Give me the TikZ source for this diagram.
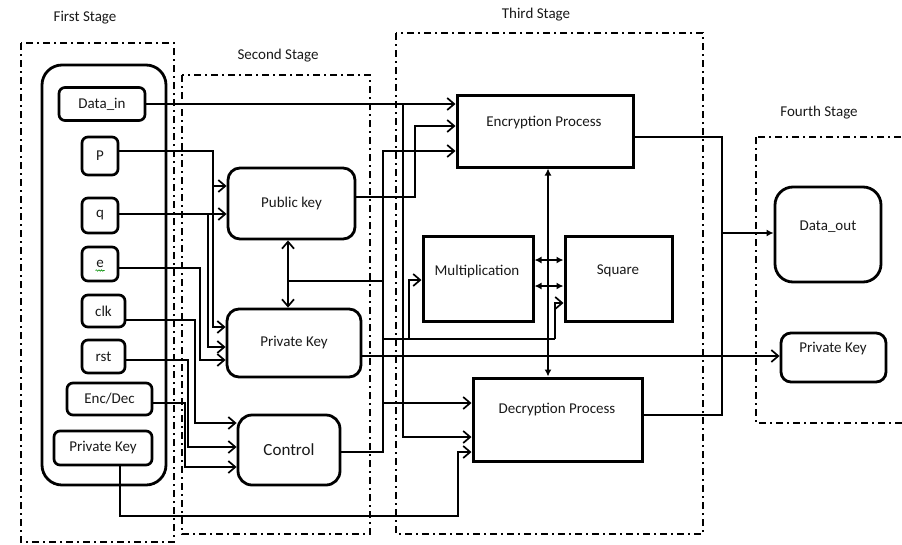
\documentclass[tikz,border=0pt]{standalone}
\usepackage{fontspec}
\setmainfont{Carlito}
\usetikzlibrary{arrows.meta,decorations.pathmorphing}

\tikzset{
  txt/.style={font=\fontsize{15}{17}\selectfont, text=black!90, inner sep=0pt},
  inbox/.style={draw, line width=2.7pt, rounded corners=6pt, inner sep=0pt, txt},
  keybox/.style={draw, line width=2.8pt, rounded corners=12pt, inner sep=0pt, txt},
  procbox/.style={draw, line width=3pt, inner sep=0pt, txt},
  stagebox/.style={draw, line width=1.9pt, dash pattern=on 7pt off 4pt on 2pt off 4pt},
  wire/.style={line width=1.7pt},
  arr/.style={wire, -{Straight Barb[length=7pt,width=12pt,line width=1.7pt]}},
  farr/.style={wire, -{Latex[length=7pt,width=7pt]}},
  fdbl/.style={wire, {Latex[length=7pt,width=7pt]}-{Latex[length=7pt,width=7pt]}},
  kdbl/.style={wire, {Straight Barb[length=7pt,width=12pt,line width=1.7pt]}-{Straight Barb[length=7pt,width=12pt,line width=1.7pt]}},
}

\begin{document}
\begin{tikzpicture}[x=1pt,y=-1pt]
\useasboundingbox (0,0) rectangle (902,544);

% ---------------- stage frames ----------------
\draw[stagebox] (21,43) rectangle (174,542);
\draw[stagebox] (182,75) rectangle (370,534);
\draw[stagebox] (396,33) rectangle (703,534);
\draw[stagebox] (756,137) rectangle (908,423);

\node[txt] (s1) at (85,18) {First Stage};
\node[txt] (s2) at (278,56) {Second Stage};
\node[txt] (s3) at (536,15) {Third Stage};
\node[txt] (s4) at (819,113) {Fourth Stage};

% ---------------- first stage: inputs ----------------
\node[draw, line width=2.8pt, rounded corners=20pt, minimum width=124pt, minimum height=420pt, inner sep=0pt] (inputs) at (104,275) {};

\node[inbox, minimum width=86pt, minimum height=33pt] (datain) at (102,104) {Data\_in};
\node[inbox, minimum width=36pt, minimum height=38pt] (p) at (100,156) {P};
\node[inbox, minimum width=36pt, minimum height=35pt] (q) at (100,215.5) {q};
\node[inbox, minimum width=36pt, minimum height=34pt] (e) at (100,264) {e};
\node[inbox, minimum width=43pt, minimum height=32pt] (clk) at (103.5,311) {clk};
\node[inbox, minimum width=43pt, minimum height=33pt] (rst) at (103.5,356.5) {rst};
\node[inbox, minimum width=85pt, minimum height=32pt] (encdec) at (109.5,399) {Enc/Dec};
\node[inbox, minimum width=98pt, minimum height=34pt] (pkl) at (103,448) {Private Key};
\draw[green!55!black, line width=0.6pt, decorate, decoration={snake, amplitude=0.7pt, segment length=2.6pt}] (95.5,270.5) -- (104.5,270.5);

% ---------------- second stage ----------------
\node[keybox, minimum width=127pt, minimum height=71pt] (pub) at (291.5,203.5) {Public key};
\node[keybox, minimum width=134pt, minimum height=68pt] (priv) at (294,343) {Private Key};
\node[keybox, rounded corners=14pt, minimum width=102pt, minimum height=70pt, font=\fontsize{17}{19}\selectfont] (ctrl) at (289,450) {Control};

% ---------------- third stage ----------------
\node[procbox, minimum width=176pt, minimum height=72pt] (enc) at (545,131) {};
\node[txt] (enct) at (544,123) {Encryption Process};
\node[procbox, minimum width=110pt, minimum height=85pt] (mult) at (478,278.5) {};
\node[txt] (multt) at (477,271) {Multiplication};
\node[procbox, minimum width=107pt, minimum height=85pt] (sq) at (618.5,278.5) {};
\node[txt] (sqt) at (618,271) {Square};
\node[procbox, minimum width=169pt, minimum height=83pt] (dec) at (557.5,419.5) {};
\node[txt] (dect) at (557,410) {Decryption Process};

% ---------------- fourth stage ----------------
\node[keybox, rounded corners=18pt, minimum width=106pt, minimum height=95pt] (dout) at (828,234.5) {};
\node[txt] (doutt) at (828,227) {Data\_out};
\node[keybox, rounded corners=10pt, minimum width=105pt, minimum height=49pt] (pkr) at (833.5,357.5) {};
\node[txt] (pkrt) at (833,349) {Private Key};

% ---------------- junction points ----------------
\coordinate (px)   at (213,151);
\coordinate (qx)   at (208,214);
\coordinate (ex)   at (200,268);
\coordinate (clkx) at (195,320);
\coordinate (rstx) at (188,360);
\coordinate (edx)  at (185,403);
\coordinate (pkd)  at (120,516);
\coordinate (pkx)  at (458,516);
\coordinate (dbr)  at (403,104);
\coordinate (pubx) at (415,126);
\coordinate (bus)  at (383,151);
\coordinate (kx)   at (288,281);
\coordinate (mx)   at (409,339);
\coordinate (sx)   at (555,303);
\coordinate (vx)   at (548,300);
\coordinate (ox)   at (722,233);

% ---------------- connectors ----------------
% data input to both processes
\draw[arr] (datain.east) -- (datain.east -| enc.west);
\draw[arr] (dbr) -- (dbr |- 0,437) -- (dec.west |- 0,437);

% key parameters into the key generators
\draw[arr] (p.east |- px) -- (px) -- (px |- 0,186) -- (pub.west |- 0,186);
\draw[arr] (px |- 0,186) -- (px |- 0,327) -- (priv.west |- 0,327);
\draw[arr] (q.east |- qx) -- (pub.west |- qx);
\draw[arr] (qx) -- (qx |- 0,347) -- (priv.west |- 0,347);
\draw[arr] (e.east |- ex) -- (ex) -- (ex |- 0,360) -- (priv.west |- 0,360);

% control inputs
\draw[arr] (clk.east |- clkx) -- (clkx) -- (clkx |- 0,423) -- (ctrl.west |- 0,423);
\draw[arr] (rst.east |- rstx) -- (rstx) -- (rstx |- 0,447) -- (ctrl.west |- 0,447);
\draw[arr] (encdec.east |- edx) -- (edx) -- (edx |- 0,467) -- (ctrl.west |- 0,467);

% external private key into decryption
\draw[arr] (pkl.south -| pkd) -- (pkd) -- (pkx) -- (pkx |- 0,452) -- (dec.west |- 0,452);

% public key into encryption
\draw[arr] (pub.east |- 0,197) -- (pubx |- 0,197) -- (pubx) -- (enc.west |- pubx);

% control bus
\draw[arr] (ctrl.east |- 0,452) -- (bus |- 0,452) -- (bus) -- (enc.west |- bus);
\draw[arr] (bus |- 0,403) -- (dec.west |- 0,403);
\draw[wire] (bus |- mx) -- (sx |- mx);
\draw[arr] (mx) -- (mx |- 0,280) -- (mult.west |- 0,280);
\draw[arr] (sx |- mx) -- (sx) -- (sq.west |- sx);

% public / private key link
\draw[kdbl] (kx |- pub.south) -- (kx |- priv.north);
\draw[wire] (kx) -- (bus |- kx);

% private key output
\draw[arr] (priv.east |- 0,356) -- (pkr.west |- 0,356);

% arithmetic units
\draw[fdbl] (vx |- enc.south) -- (vx |- dec.north);
\draw[fdbl] (mult.east |- 0,260) -- (sq.west |- 0,260);
\draw[fdbl] (mult.east |- 0,286) -- (sq.west |- 0,286);

% outputs
\draw[wire] (enc.east |- 0,137) -- (ox |- 0,137) -- (ox);
\draw[wire] (dec.east |- 0,415) -- (ox |- 0,415) -- (ox);
\draw[farr] (ox) -- (dout.west |- ox);
\end{tikzpicture}
\end{document}
